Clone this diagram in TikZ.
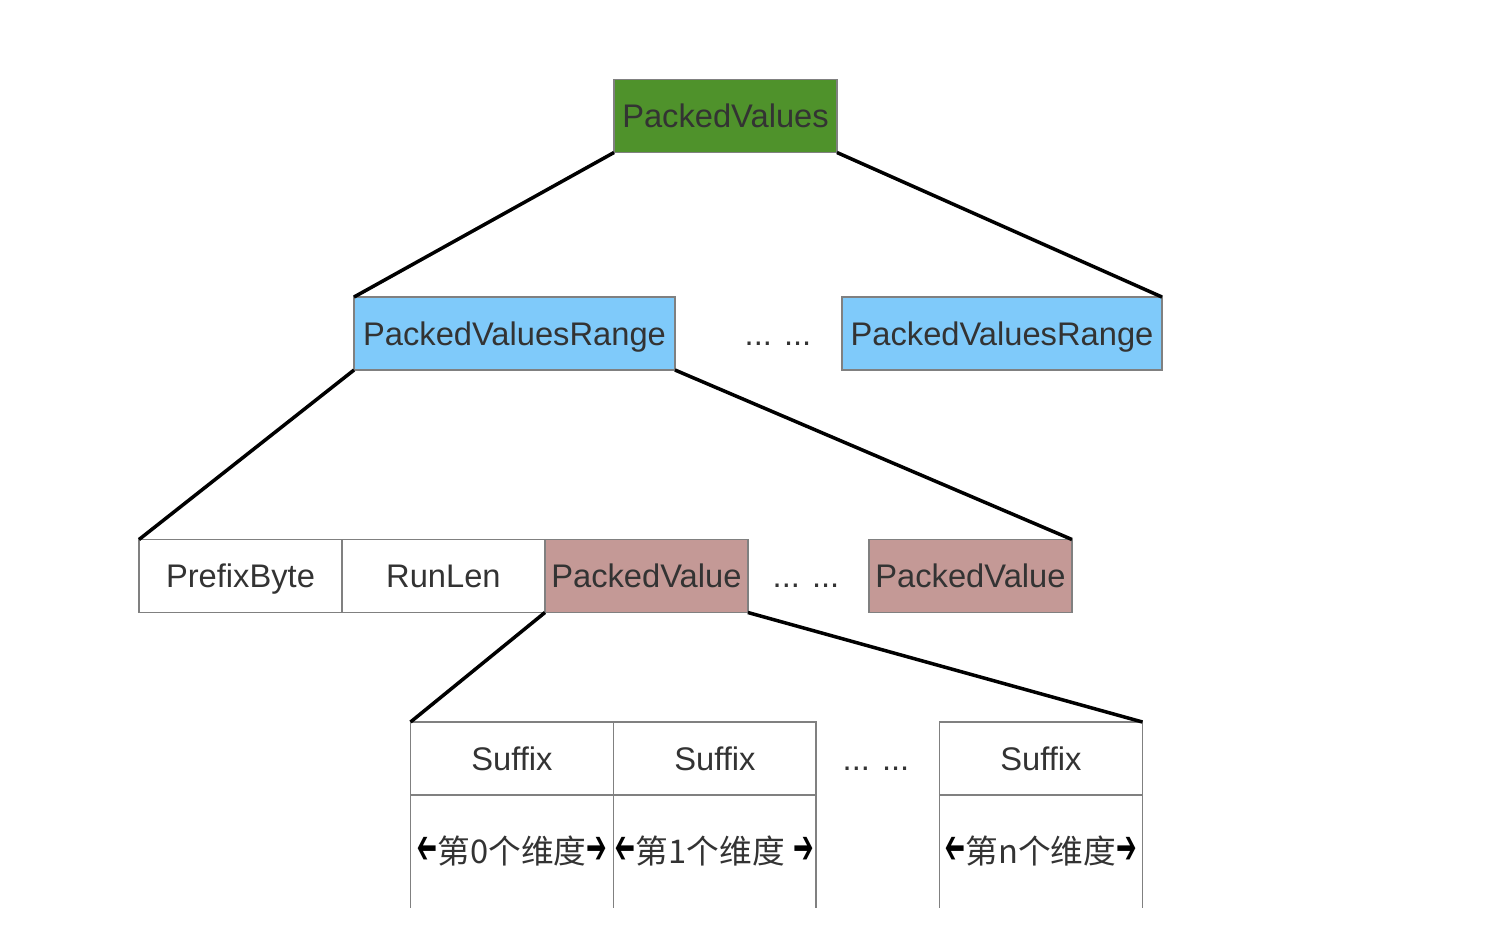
\documentclass[tikz,border=0pt]{standalone}
\usepackage{fontspec}
\setmainfont{Liberation Sans}
\newfontfamily\cjk{Noto Sans CJK SC}
\newfontfamily\arrowfont{DejaVu Sans}
\usetikzlibrary{positioning}
\definecolor{rootgreen}{RGB}{79,146,43}
\definecolor{rangeblue}{RGB}{127,202,250}
\definecolor{valuerose}{RGB}{196,153,150}
\definecolor{cellgray}{RGB}{128,128,128}
\definecolor{textgray}{RGB}{51,51,51}
\newcommand{\ra}{\textcolor{black}{\scalebox{0.75}[1.45]{\arrowfont ➔}}}
\newcommand{\la}{\reflectbox{\ra}}
\newcommand{\dimlabel}[1]{\makebox[3.9cm]{#1}}

\begin{document}
\begin{tikzpicture}[x=0.02cm, y=-0.02cm,
  every node/.style = {font=\fontsize{18.6}{22}\selectfont, text=textgray,
    inner sep=0pt, outer sep=0pt},
  cell/.style = {shape=rectangle, draw=cellgray, line width=1.1pt,
    minimum width=4.06cm, minimum height=1.46cm,
    text height=14pt, text depth=0.4pt},
  dimcell/.style = {minimum width=4.06cm, minimum height=2.26cm},
  link/.style = {line width=2pt, black}]
  \useasboundingbox (0,0) rectangle (1492,948);
  % top level
  \node[cell, fill=rootgreen, minimum width=4.46cm] (root) at (725.5,116) {PackedValues};
  \node[cell, fill=rangeblue, minimum width=6.42cm] (range1) at (514.5,333.5) {PackedValuesRange};
  \node (dots1) at (778,344) {... ...};
  \node[cell, fill=rangeblue, minimum width=6.4cm] (range2) at (1002,333.5) {PackedValuesRange};
  % range contents
  \node[cell] (prefix) at (240.5,576) {PrefixByte};
  \node[cell, right=0pt of prefix] (runlen) {RunLen};
  \node[cell, fill=valuerose, right=0pt of runlen] (value1) {PackedValue};
  \node (dots2) at (806,586) {... ...};
  \node[cell, fill=valuerose] (value2) at (970.5,576) {PackedValue};
  % suffixes
  \node[cell] (suffix0) at (512,758.5) {Suffix};
  \node[cell, right=0pt of suffix0] (suffix1) {Suffix};
  \node (dots3) at (876,769) {... ...};
  \node[cell] (suffixn) at (1041,758.5) {Suffix};
  \node[dimcell, below=0pt of suffix0] (dim0) {\dimlabel{\la{\cjk 第0个维度}\ra}};
  \node[dimcell, below=0pt of suffix1] (dim1) {\dimlabel{\la{\cjk 第1个维度} \ra}};
  \node[dimcell, below=0pt of suffixn] (dimn) {\dimlabel{\la{\cjk 第n个维度}\ra}};
  \foreach \d in {dim0,dim1,dimn}
    \draw[draw=cellgray, line width=1.1pt] (\d.north west) -- (\d.south west)
      (\d.north east) -- (\d.south east);
  % connectors
  \draw[link] (root.south west) -- (range1.north west);
  \draw[link] (root.south east) -- (range2.north east);
  \draw[link] (range1.south west) -- (prefix.north west);
  \draw[link] (range1.south east) -- (value2.north east);
  \draw[link] (value1.south west) -- (suffix0.north west);
  \draw[link] (value1.south east) -- (suffixn.north east);
\end{tikzpicture}
\end{document}
